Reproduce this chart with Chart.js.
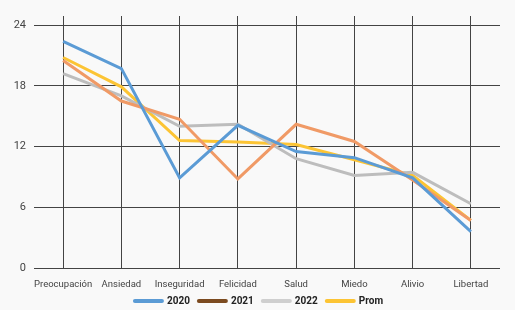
<!DOCTYPE html>
<html>
<head>
<meta charset="utf-8">
<script src="https://cdn.jsdelivr.net/npm/chart.js@4/dist/chart.umd.min.js"></script>
<style>
html,body{margin:0;padding:0;background:#f9f9f9;}
#wrap{width:515px;height:310px;position:relative;}
</style>
</head>
<body>
<div id="wrap"><canvas id="c" width="515" height="310"></canvas></div>
<script>
const categories = ["Preocupación","Ansiedad","Inseguridad","Felicidad","Salud","Miedo","Alivio","Libertad"];
const s2020 = [22.4, 19.7, 8.9, 14.1, 11.5, 10.9, 8.9, 3.6];
const s2021 = [20.5, 16.5, 14.7, 8.8, 14.2, 12.5, 8.7, 4.7];
const s2022 = [19.2, 17.0, 14.0, 14.2, 10.8, 9.15, 9.45, 6.35];
const sProm = [20.8, 17.9, 12.6, 12.45, 12.2, 10.7, 9.15, 4.7];
const yTicks = [0, 6, 12, 18, 24];

const seriesNames = ["2020","2021","2022","Prom"];
const lineColors = ["#5b9bd5","#f09a66","#bdbdbd","#fcc434"];
const legendColors = ["#5b9bd5","#7b4a1f","#cfcfcf","#fcc434"];

const datasets = [s2020, s2021, s2022, sProm].map((d,i)=>({
  label: seriesNames[i],
  data: d,
  borderColor: lineColors[i],
  backgroundColor: lineColors[i],
  borderWidth: 3,
  pointRadius: 0,
  pointHoverRadius: 0,
  tension: 0,
  fill: false
}));

const legendShift = {
  id: 'legendShift',
  beforeDraw(chart) {
    const lg = chart.legend;
    if (lg && !lg._shifted) {
      const orig = lg.draw.bind(lg);
      lg.draw = function(...a) {
        const ctx = chart.ctx;
        ctx.save();
        ctx.translate(9, 0);
        orig(...a);
        ctx.restore();
      };
      lg._shifted = true;
    }
  }
};

new Chart(document.getElementById('c'), {
  type: 'line',
  data: { labels: categories, datasets: datasets },
  plugins: [legendShift],
  options: {
    responsive: false,
    animation: false,
    layout: { padding: { top: 16, right: 15, left: 0, bottom: -6 } },
    plugins: {
      tooltip: { enabled: false },
      legend: {
        position: 'bottom',
        labels: {
          usePointStyle: true,
          pointStyleWidth: 27,
          boxWidth: 27,
          boxHeight: 4,
          padding: 9,
          color: '#222',
          font: { family: 'Roboto', size: 10, weight: 'bold', lineHeight: 1.32 },
          generateLabels: (chart) => seriesNames.map((n,i)=>({
            text: n,
            fillStyle: legendColors[i],
            strokeStyle: legendColors[i],
            lineWidth: 4,
            lineCap: 'round',
            pointStyle: 'line',
            hidden: false,
            datasetIndex: i,
            fontColor: '#222'
          }))
        }
      }
    },
    scales: {
      x: {
        offset: true,
        afterFit: (scale) => { scale.height = 19; scale._computeLabelArea = () => undefined; },
        grid: { color: '#444', lineWidth: 1, drawTicks: false, offset: false },
        border: { display: false },
        ticks: { color: '#444', padding: 11, font: { family: 'Roboto', size: 9.5 }, maxRotation: 0, autoSkip: false }
      },
      y: {
        min: 0,
        max: 24.9,
        afterBuildTicks: (scale) => { scale.ticks = yTicks.map(v=>({value:v})); },
        afterFit: (scale) => { scale.width = 34; },
        grid: { color: '#444', lineWidth: 1, drawTicks: false },
        border: { display: false },
        ticks: { color: '#444', padding: 8, font: { family: 'Roboto', size: 11 } }
      }
    }
  }
});
</script>
</body>
</html>
